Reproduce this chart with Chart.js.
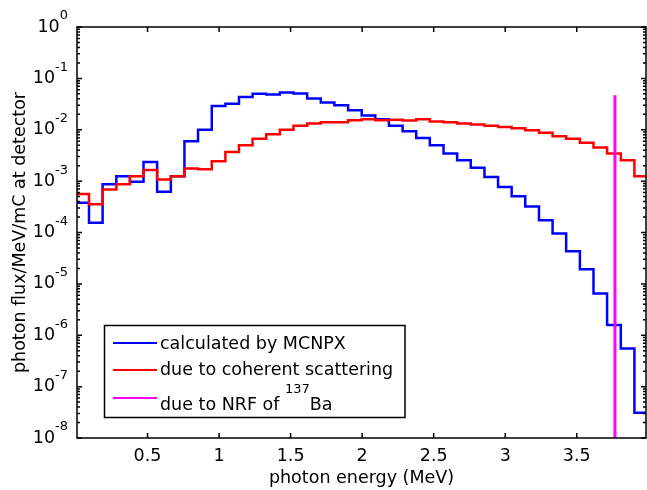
<!DOCTYPE html>
<html>
<head>
<meta charset="utf-8">
<script src="https://cdn.jsdelivr.net/npm/chart.js@4.4.1/dist/chart.umd.min.js"></script>
<style>
  html, body { margin: 0; padding: 0; background: #fff; }
</style>
</head>
<body>
<canvas id="fluxChart" width="647" height="490"></canvas>
<script>
// bin edges (MeV) of the histogram, one more than the number of bins
const binEdges = [0.000, 0.091, 0.186, 0.282, 0.377, 0.472, 0.567, 0.663, 0.758, 0.853,
    0.949, 1.044, 1.139, 1.234, 1.330, 1.425, 1.520, 1.616, 1.711, 1.806,
    1.902, 1.997, 2.092, 2.187, 2.283, 2.378, 2.473, 2.569, 2.664, 2.759,
    2.855, 2.950, 3.045, 3.140, 3.236, 3.331, 3.426, 3.522, 3.617, 3.712,
    3.808, 3.903, 3.998];

// photon flux / MeV / mC at detector
const mcnpxFlux = [3.8e-4, 1.55e-4, 8.7e-4, 1.24e-3, 9.7e-4, 2.35e-3, 6.2e-4, 1.24e-3, 6.0e-3, 1.0e-2,
    2.9e-2, 3.2e-2, 4.35e-2, 5.0e-2, 4.85e-2, 5.3e-2, 5.05e-2, 4.05e-2, 3.4e-2, 3.0e-2,
    2.4e-2, 1.9e-2, 1.6e-2, 1.19e-2, 9.3e-3, 6.9e-3, 5.0e-3, 3.45e-3, 2.55e-3, 1.83e-3,
    1.2e-3, 7.7e-4, 5.1e-4, 3.2e-4, 1.74e-4, 9.6e-5, 4.3e-5, 1.93e-5, 6.5e-6, 1.58e-6,
    5.5e-7, 3.1e-8];

const coherentFlux = [5.6e-4, 3.55e-4, 6.9e-4, 8.7e-4, 1.24e-3, 1.65e-3, 1.07e-3, 1.24e-3, 1.77e-3, 1.7e-3,
    2.45e-3, 3.7e-3, 5.0e-3, 6.7e-3, 8.2e-3, 1.0e-2, 1.19e-2, 1.32e-2, 1.4e-2, 1.4e-2,
    1.53e-2, 1.6e-2, 1.53e-2, 1.57e-2, 1.52e-2, 1.6e-2, 1.44e-2, 1.4e-2, 1.32e-2, 1.26e-2,
    1.19e-2, 1.13e-2, 1.07e-2, 9.8e-3, 8.7e-3, 7.5e-3, 6.7e-3, 5.6e-3, 4.5e-3, 3.45e-3,
    2.55e-3, 1.24e-3];

// NRF line of 137Ba
const nrfEnergy = 3.767;
const nrfFlux = [1e-8, 4.7e-2];

const xTicks = [0.5, 1, 1.5, 2, 2.5, 3, 3.5];
const yTicks = [1, 1e-1, 1e-2, 1e-3, 1e-4, 1e-5, 1e-6, 1e-7, 1e-8];
const yTickBase = '10';
const yTickExponents = ['0', '-1', '-2', '-3', '-4', '-5', '-6', '-7', '-8'];

// legend texts, split where a superscript sits: [before, superscript, after]
const seriesLabels = [['calculated by MCNPX', '', ''], ['due to coherent scattering', '', ''], ['due to NRF of ', '137', 'Ba']];
const seriesColors = ['#0000ff', '#ff0000', '#ff00ff'];

const FONT = 'DejaVu Sans';
const fontMain = { family: FONT, size: 17.5 };
const supSize = 13;

function histPoints(values) {
    const pts = values.map((v, i) => ({ x: binEdges[i], y: v }));
    pts.push({ x: binEdges[values.length], y: values[values.length - 1] });
    return pts;
}

// text with a raised small part, drawn left to right from x
function drawSupText(ctx, parts, x, y, rise) {
    ctx.textAlign = 'left';
    ctx.font = fontMain.size + 'px "' + FONT + '"';
    ctx.fillText(parts[0], x, y);
    x += ctx.measureText(parts[0]).width;
    if (parts[1]) {
        ctx.font = supSize + 'px "' + FONT + '"';
        ctx.fillText(parts[1], x, y - rise);
        x += ctx.measureText(parts[1]).width;
    }
    if (parts[2]) {
        ctx.font = fontMain.size + 'px "' + FONT + '"';
        ctx.fillText(parts[2], x, y);
    }
}

// frame, inward ticks, y labels with exponents and the boxed legend
const framePlugin = {
    id: 'frame',
    afterDraw(chart) {
        const ctx = chart.ctx;
        const area = chart.chartArea;
        const xs = chart.scales.x;
        const ys = chart.scales.y;
        ctx.save();
        ctx.strokeStyle = '#000';
        ctx.lineWidth = 1.5;

        ctx.beginPath();
        xTicks.forEach(v => {
            const px = xs.getPixelForValue(v);
            ctx.moveTo(px, area.bottom); ctx.lineTo(px, area.bottom - 5);
            ctx.moveTo(px, area.top); ctx.lineTo(px, area.top + 5);
        });
        for (let d = -8; d <= 0; d++) {
            const major = ys.getPixelForValue(Math.pow(10, d));
            ctx.moveTo(area.left, major); ctx.lineTo(area.left + 5, major);
            ctx.moveTo(area.right, major); ctx.lineTo(area.right - 5, major);
            if (d < 0) {
                for (let m = 2; m <= 9; m++) {
                    const py = ys.getPixelForValue(m * Math.pow(10, d));
                    ctx.moveTo(area.left, py); ctx.lineTo(area.left + 3, py);
                    ctx.moveTo(area.right, py); ctx.lineTo(area.right - 3, py);
                }
            }
        }
        ctx.stroke();
        ctx.strokeRect(area.left, area.top, area.right - area.left, area.bottom - area.top);

        // y tick labels: 10 with exponent
        ctx.fillStyle = '#000';
        ctx.textBaseline = 'middle';
        ctx.textAlign = 'right';
        yTicks.forEach((v, i) => {
            const py = ys.getPixelForValue(v);
            const right = area.left - 9;
            ctx.font = supSize + 'px "' + FONT + '"';
            const ew = ctx.measureText(yTickExponents[i]).width;
            ctx.fillText(yTickExponents[i], right, py - 11);
            ctx.font = fontMain.size + 'px "' + FONT + '"';
            ctx.fillText(yTickBase, right - ew, py);
        });

        // legend
        const box = { left: 104.5, top: 325.5, width: 300.5, height: 92 };
        ctx.fillStyle = '#fff';
        ctx.fillRect(box.left, box.top, box.width, box.height);
        ctx.strokeRect(box.left, box.top, box.width, box.height);
        const lineY = [343, 370, 398];
        const textY = [344, 370, 405];
        seriesLabels.forEach((parts, i) => {
            ctx.strokeStyle = seriesColors[i];
            ctx.lineWidth = 2;
            ctx.beginPath();
            ctx.moveTo(113, lineY[i]);
            ctx.lineTo(157, lineY[i]);
            ctx.stroke();
            ctx.fillStyle = '#000';
            drawSupText(ctx, parts, 160, textY[i], 15);
        });
        ctx.restore();
    }
};

function createFluxChart() {
    const ctx = document.getElementById('fluxChart').getContext('2d');

    new Chart(ctx, {
        type: 'line',
        data: {
            datasets: [{
                label: seriesLabels[2].join(''),
                data: nrfFlux.map(v => ({ x: nrfEnergy, y: v })),
                borderColor: seriesColors[2],
                borderWidth: 3,
                order: 0
            }, {
                label: seriesLabels[1].join(''),
                data: histPoints(coherentFlux),
                borderColor: seriesColors[1],
                borderWidth: 2.5,
                stepped: 'before',
                order: 1
            }, {
                label: seriesLabels[0].join(''),
                data: histPoints(mcnpxFlux),
                borderColor: seriesColors[0],
                borderWidth: 2.5,
                stepped: 'before',
                order: 2
            }]
        },
        options: {
            responsive: false,
            animation: false,
            clip: 0,
            layout: { padding: { top: 27, right: 1, left: 0, bottom: 0 } },
            elements: { point: { radius: 0 }, line: { fill: false, tension: 0 } },
            plugins: {
                legend: { display: false },
                tooltip: { enabled: false }
            },
            scales: {
                x: {
                    type: 'linear',
                    min: 0.007,
                    max: 3.984,
                    afterBuildTicks: scale => { scale.ticks = xTicks.map(v => ({ value: v })); },
                    afterFit: scale => { scale.height = 52; },
                    grid: { display: false, drawTicks: false },
                    border: { display: false },
                    ticks: {
                        font: fontMain, color: '#000', padding: 8,
                        maxRotation: 0, autoSkip: false,
                        callback: v => String(v)
                    },
                    title: {
                        display: true, text: 'photon energy (MeV)',
                        font: fontMain, color: '#000',
                        padding: { top: 0, bottom: 1.5 }
                    }
                },
                y: {
                    type: 'logarithmic',
                    min: 1e-8,
                    max: 1,
                    afterBuildTicks: scale => { scale.ticks = yTicks.map(v => ({ value: v })); },
                    afterFit: scale => { scale.width = 77; },
                    grid: { display: false, drawTicks: false },
                    border: { display: false },
                    ticks: { display: false },
                    title: {
                        display: true, text: 'photon flux/MeV/mC at detector',
                        font: fontMain, color: '#000',
                        padding: { top: 10, bottom: 0 }
                    }
                }
            }
        },
        plugins: [framePlugin]
    });
}

document.addEventListener('DOMContentLoaded', createFluxChart);
</script>
</body>
</html>
